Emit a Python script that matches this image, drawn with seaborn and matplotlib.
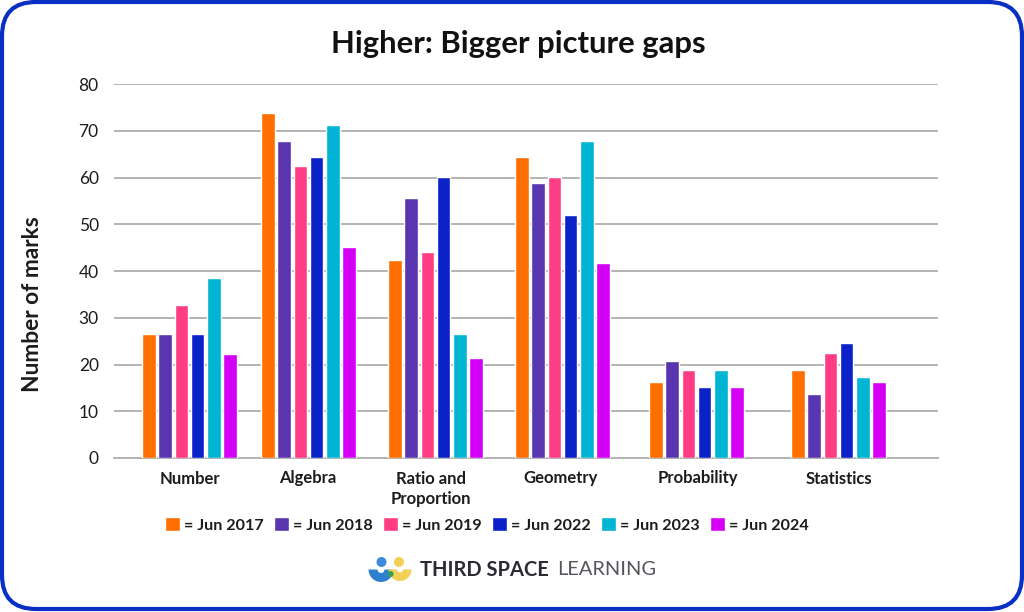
import matplotlib
matplotlib.use('Agg')
import matplotlib.pyplot as plt
from matplotlib.patches import Circle, FancyBboxPatch, Wedge
import pandas as pd
import seaborn as sns

# --- DATA ---
topics = ['Number', 'Algebra', 'Ratio and\nProportion', 'Geometry', 'Probability', 'Statistics']
papers = ['Jun 2017', 'Jun 2018', 'Jun 2019', 'Jun 2022', 'Jun 2023', 'Jun 2024']

jun_2017 = [26.5, 73.8, 42.3, 64.4, 16.2, 18.8]
jun_2018 = [26.5, 67.8, 55.7, 58.9, 20.8, 13.6]
jun_2019 = [32.8, 62.6, 44.0, 60.2, 18.8, 22.5]
jun_2022 = [26.5, 64.4, 60.2, 52.0, 15.3, 24.6]
jun_2023 = [38.5, 71.2, 26.5, 67.8, 18.8, 17.3]
jun_2024 = [22.3, 45.1, 21.3, 41.8, 15.3, 16.2]

# --- LAYOUT ---
# the groups are not evenly spaced in the original, x axis is in image pixels
group_x = [189.5, 308.5, 435.5, 562.5, 696.5, 838.5]
label_x = [190, 308, 431, 561, 698, 839]
colors = ['#ff6f00', '#5a35b0', '#ff3d85', '#0a22c8', '#00b4d4', '#d400f5']
FRAME = '#0a2fc4'
GRID = '#b3b3b3'
TEXT = '#1c1c1c'

series = [jun_2017, jun_2018, jun_2019, jun_2022, jun_2023, jun_2024]
rows = []
for paper, values in zip(papers, series):
    for x, value in zip(group_x, values):
        rows.append({'x': x, 'marks': value, 'paper': '= ' + paper})
df = pd.DataFrame(rows)

sns.set_theme(style='white')
plt.rcParams['font.family'] = ['Lato', 'DejaVu Sans']

W, H = 1024, 612
fig = plt.figure(figsize=(W / 100, H / 100), dpi=100)

# rounded card + logo live on a background axes in pixel coordinates
bg = fig.add_axes([0, 0, 1, 1], zorder=0)
bg.set_xlim(0, W)
bg.set_ylim(H, 0)
bg.axis('off')
bg.add_patch(FancyBboxPatch((2, 2), W - 4, H - 5, boxstyle='round,pad=0,rounding_size=34',
                            facecolor='white', edgecolor=FRAME, linewidth=3))

# logo
bg.add_patch(Circle((381.5, 562), 5, color='#3d8bd8', lw=0))
bg.add_patch(Circle((399, 562), 5, color='#f2cf55', lw=0))
bg.add_patch(Wedge((381, 569.5), 12.5, 0, 180, width=9, color='#2f7fd0', lw=0))
bg.add_patch(Wedge((400, 569.5), 11.5, 0, 180, width=8.5, color='#f2cf55', lw=0))
bg.add_patch(Circle((390.5, 574), 3, color='#2fa05a', lw=0))
bg.text(420, 569.5, 'THIRD SPACE', fontsize=14.5, fontweight='bold', color='#2b2b33', va='center')
bg.text(557, 569.5, 'LEARNING', fontsize=14.4, color='#55555c', va='center')

# chart
ax = fig.add_axes([114 / W, 1 - 458 / H, (938 - 114) / W, (458 - 84.2) / H], zorder=1)
ax.patch.set_alpha(0)
sns.barplot(data=df, x='x', y='marks', hue='paper', palette=colors, native_scale=True,
            width=0.82, gap=0.16, saturation=1, ax=ax, zorder=3)

ax.set_xlim(114, 938)
ax.set_ylim(0, 80)
ax.set_yticks(range(0, 81, 10))
ax.set_xticks(label_x)
ax.set_xticklabels(topics, fontsize=12, fontweight='bold', color=TEXT, linespacing=1.35)
ax.tick_params(axis='both', length=0)
ax.tick_params(axis='x', pad=9)
ax.tick_params(axis='y', pad=11, labelsize=12.5, labelcolor=TEXT)
ax.grid(axis='y', color=GRID, linewidth=1.4, zorder=1)
ax.set_axisbelow(True)
sns.despine(ax=ax, left=True, top=True, right=True)
ax.spines['bottom'].set_color(GRID)
ax.spines['bottom'].set_linewidth(1.4)

ax.set_xlabel('')
ax.set_ylabel('')
fig.text(33 / W, 1 - 304 / H, 'Number of marks', rotation=90, fontsize=16.4, fontweight='bold',
         color=TEXT, ha='center', va='center')
fig.text(518 / W, 1 - 44 / H, 'Higher: Bigger picture gaps', fontsize=22.3, fontweight='bold',
         color='#111111', ha='center', va='center')

handles, labels = ax.get_legend_handles_labels()
ax.legend(handles, labels, ncol=6, frameon=False, loc='center',
          bbox_to_anchor=(487 / W, 1 - 525 / H), bbox_transform=fig.transFigure,
          prop={'weight': 'bold', 'size': 11.6}, labelcolor=TEXT,
          handlelength=0.95, handleheight=0.95, handletextpad=0.25, columnspacing=0.62)

fig.savefig('out.png', dpi=100)
